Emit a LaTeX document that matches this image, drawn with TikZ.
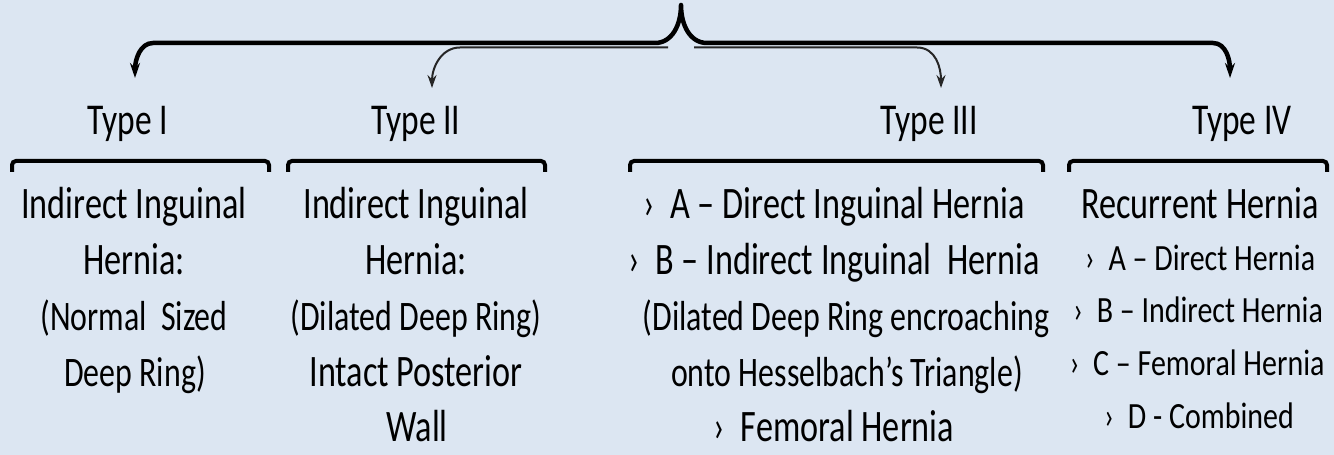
\documentclass[tikz,border=0pt]{standalone}
\usepackage{fontspec}
\setmainfont{Carlito}[FakeStretch=0.76]
\newfontfamily\subfont{Carlito}[FakeStretch=0.81]
\usetikzlibrary{arrows.meta}
\definecolor{bgblue}{HTML}{DCE6F2}
\begin{document}
\begin{tikzpicture}[x=1bp,y=-1bp,
  lbl/.style={inner sep=0pt, anchor=base, font=\fontsize{45bp}{54bp}\selectfont},
  paren/.style={inner sep=0pt, anchor=base, font=\fontsize{42bp}{50bp}\selectfont},
  typelbl/.style={inner sep=0pt, anchor=base, font=\fontsize{44bp}{54bp}\selectfont},
  sub/.style={inner sep=0pt, anchor=base, font=\subfont\fontsize{37bp}{44bp}\selectfont},
  bracketline/.style={line width=4bp, rounded corners=4bp},
  mainline/.style={line width=4.5bp, {Stealth[length=15bp,width=10bp]}-{Stealth[length=15bp,width=10bp]}},
  thinarrow/.style={line width=2bp, black!85, -{Stealth[length=13bp,width=9bp]}}]
\fill[bgblue] (0,0) rectangle (1334,455);
\useasboundingbox (0,0) rectangle (1334,455);

% arrow tips and brace point
\coordinate (tip) at (681,5);
\coordinate (a1) at (135,78);
\coordinate (a2) at (432,88);
\coordinate (a3) at (941,88);
\coordinate (a4) at (1230,78);

% secondary branches running just under the main line
\draw[thinarrow] (668,47.5) -- (460,47.5) .. controls (441,47.5) and (432,68) .. (a2);
\draw[thinarrow] (694,47.5) -- (917,47.5) .. controls (936,47.5) and (941,68) .. (a3);

% main brace with outer arrows
\draw[mainline, line join=round]
  (a1) .. controls (135,60) and (140,43) .. (153,43) -- (655,43)
  .. controls (672,43) and (681,25) .. (tip)
  .. controls (681,25) and (690,43) .. (707,43) -- (1213,43)
  .. controls (1226,43) and (1230,60) .. (a4);

% type headings
\node[typelbl] (t1) at (128,135) {Type I};
\node[typelbl] (t2) at (416,135) {Type II};
\node[typelbl] (t3) at (929,135) {Type III};
\node[typelbl] (t4) at (1242,135) {Type IV};

% brackets under the headings
\draw[bracketline] (12,172) -- (12,161) -- (269,161) -- (269,172);
\draw[bracketline] (288,172) -- (288,161) -- (545,161) -- (545,172);
\draw[bracketline] (630,172) -- (630,161) -- (1043,161) -- (1043,172);
\draw[bracketline] (1069,172) -- (1069,161) -- (1327,161) -- (1327,172);

% column 1
\node[lbl] (c1a) at (134,219) {Indirect Inguinal};
\node[lbl] (c1b) at (134,275) {Hernia:};
\node[paren] (c1c) at (134,330.5) {(Normal~ Sized};
\node[paren] (c1d) at (135,386) {Deep Ring)};

% column 2
\node[lbl] (c2a) at (416,219) {Indirect Inguinal};
\node[lbl] (c2b) at (416,275) {Hernia:};
\node[paren] (c2c) at (416,330.5) {(Dilated Deep Ring)};
\node[lbl] (c2d) at (416,386) {Intact Posterior};
\node[lbl] (c2e) at (417,441.5) {Wall};

% column 3
\node[lbl] (c3a) at (834,219) {›~ A – Direct Inguinal Hernia};
\node[lbl] (c3b) at (834,275) {›~ B – Indirect Inguinal~ Hernia};
\node[paren] (c3c) at (846,330.5) {(Dilated Deep Ring encroaching};
\node[paren] (c3d) at (847,386) {onto Hesselbach’s Triangle)};
\node[lbl] (c3e) at (834,441.5) {›~ Femoral Hernia};

% column 4
\node[lbl] (c4a) at (1200,219) {Recurrent Hernia};
\node[sub] (c4b) at (1200,271) {›~ A – Direct Hernia};
\node[sub] (c4c) at (1198,323) {›~ B – Indirect Hernia};
\node[sub] (c4d) at (1197,375) {›~ C – Femoral Hernia};
\node[sub] (c4e) at (1199,428) {›~ D - Combined};
\end{tikzpicture}
\end{document}
